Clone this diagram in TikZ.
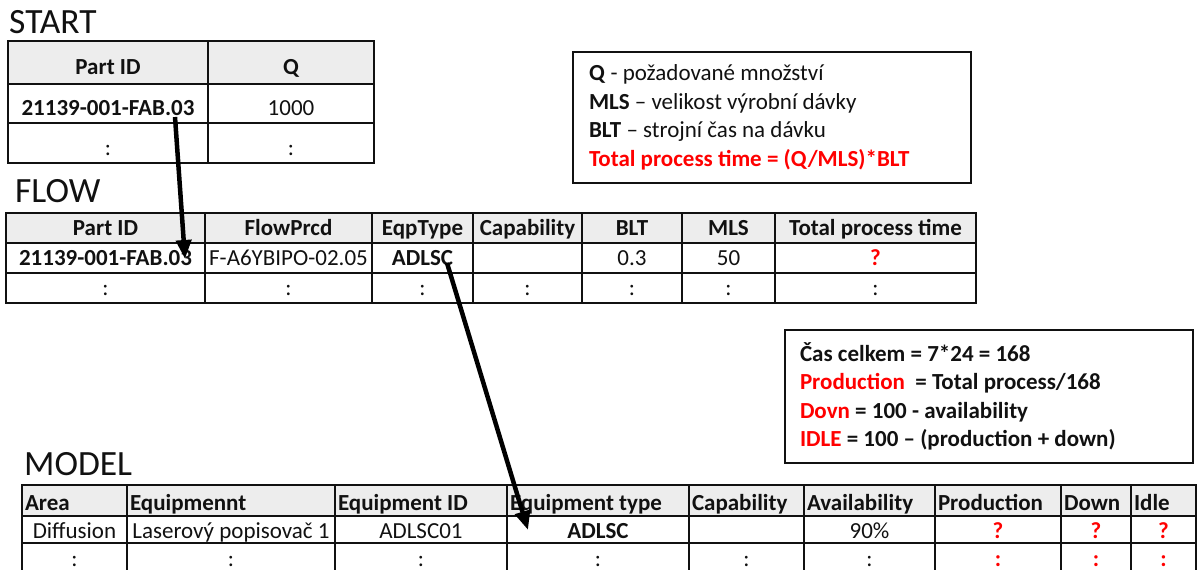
\documentclass[tikz,border=0pt]{standalone}
\usepackage{fontspec}
\setmainfont{Carlito}
\usetikzlibrary{arrows.meta}

\definecolor{hdrgray}{HTML}{EDEDED}
\definecolor{alert}{HTML}{FF0000}
\definecolor{ink}{HTML}{111111}

\tikzset{
  cellbox/.style={draw=ink, line width=1.4pt, inner sep=0pt, outer sep=0pt,
    text=ink, font=\fontsize{23}{26}\selectfont, text height=15pt, text depth=0pt},
  datacell/.style={cellbox},
  boldcell/.style={cellbox, font=\fontsize{23}{26}\selectfont\bfseries},
  hdrcell/.style={boldcell, fill=hdrgray},
  redcell/.style={boldcell, text=alert},
  tallcell/.style={text height=24pt},
  modelhdr/.style={text height=19pt},
  modelrow/.style={text height=18pt},
  lastrow/.style={text height=11pt},
  title/.style={anchor=base west, inner sep=0pt, text=ink, font=\fontsize{35.5}{40}\selectfont},
  notebox/.style={draw=ink, line width=1.6pt, inner sep=0pt, align=flush left, text=ink,
    font=\fontsize{23}{28.5}\selectfont},
  flowarrow/.style={line width=4.5pt, draw=black, -{Triangle[length=19pt,width=15pt]}},
}

% one table cell: name, x1, x2, y1, y2, style, text
\newcommand{\gridcell}[7]{%
  \node[#6, minimum width={(#3-#2)*1pt}, minimum height={(#5-#4)*1pt}]
    (#1) at ({(#2+#3)/2},{(#4+#5)/2}) {#7};}
% same, with the text set flush left
\newcommand{\gridcellL}[7]{%
  \node[#6, minimum width={(#3-#2)*1pt}, minimum height={(#5-#4)*1pt},
    text width={(#3-#2-6)*1pt}, align=flush left]
    (#1) at ({(#2+#3)/2},{(#4+#5)/2}) {#7};}

\begin{document}
\begin{tikzpicture}[x=1pt, y=-1pt]
\useasboundingbox (0,0) rectangle (1203,570);
\clip (0,0) rectangle (1203,570);

% ---------------- START ----------------
\node[title] (startT) at (9,33) {START};
\gridcell{s11}{8}{208}{41}{84}{hdrcell,tallcell}{Part ID}
\gridcell{s12}{208}{374}{41}{84}{hdrcell,tallcell}{Q}
\gridcell{s21}{8}{208}{84}{123}{boldcell,tallcell}{21139-001-FAB.03}
\gridcell{s22}{208}{374}{84}{123}{datacell,tallcell}{1000}
\gridcell{s31}{8}{208}{123}{163}{datacell,tallcell}{:}
\gridcell{s32}{208}{374}{123}{163}{datacell,tallcell}{:}

% ---------------- FLOW ----------------
\node[title] (flowT) at (15,202) {FLOW};
\gridcell{f11}{6}{205}{213}{243}{hdrcell}{Part ID}
\gridcell{f12}{205}{372}{213}{243}{hdrcell}{FlowPrcd}
\gridcell{f13}{372}{473}{213}{243}{hdrcell}{EqpType}
\gridcell{f14}{473}{582}{213}{243}{hdrcell}{Capability}
\gridcell{f15}{582}{682}{213}{243}{hdrcell}{BLT}
\gridcell{f16}{682}{775}{213}{243}{hdrcell}{MLS}
\gridcell{f17}{775}{976}{213}{243}{hdrcell}{Total process time}
\gridcell{f21}{6}{205}{243}{273}{boldcell}{21139-001-FAB.03}
\gridcell{f22}{205}{372}{243}{273}{datacell}{F-A6YBIPO-02.05}
\gridcell{f23}{372}{473}{243}{273}{boldcell}{ADLSC}
\gridcell{f24}{473}{582}{243}{273}{datacell}{}
\gridcell{f25}{582}{682}{243}{273}{datacell}{0.3}
\gridcell{f26}{682}{775}{243}{273}{datacell}{50}
\gridcell{f27}{775}{976}{243}{273}{redcell}{?}
\gridcell{f31}{6}{205}{273}{303}{datacell}{:}
\gridcell{f32}{205}{372}{273}{303}{datacell}{:}
\gridcell{f33}{372}{473}{273}{303}{datacell}{:}
\gridcell{f34}{473}{582}{273}{303}{datacell}{:}
\gridcell{f35}{582}{682}{273}{303}{datacell}{:}
\gridcell{f36}{682}{775}{273}{303}{datacell}{:}
\gridcell{f37}{775}{976}{273}{303}{datacell}{:}

% ---------------- MODEL ----------------
\node[title] (modelT) at (24,475) {MODEL};
\gridcellL{m11}{22}{127}{485}{516}{hdrcell,modelhdr}{Area}
\gridcellL{m12}{127}{335}{485}{516}{hdrcell,modelhdr}{Equipmennt}
\gridcellL{m13}{335}{507}{485}{516}{hdrcell,modelhdr}{Equipment ID}
\gridcellL{m14}{507}{689}{485}{516}{hdrcell,modelhdr}{Equipment type}
\gridcellL{m15}{689}{804}{485}{516}{hdrcell,modelhdr}{Capability}
\gridcellL{m16}{804}{935}{485}{516}{hdrcell,modelhdr}{Availability}
\gridcellL{m17}{935}{1061}{485}{516}{hdrcell,modelhdr}{Production}
\gridcellL{m18}{1061}{1131}{485}{516}{hdrcell,modelhdr}{Down}
\gridcellL{m19}{1131}{1196}{485}{516}{hdrcell,modelhdr}{Idle}
\gridcell{m21}{22}{127}{516}{543}{datacell,modelrow}{Diffusion}
\gridcell{m22}{127}{335}{516}{543}{datacell,modelrow}{Laserový popisovač 1}
\gridcell{m23}{335}{507}{516}{543}{datacell,modelrow}{ADLSC01}
\gridcell{m24}{507}{689}{516}{543}{boldcell,modelrow}{ADLSC}
\gridcell{m25}{689}{804}{516}{543}{datacell,modelrow}{}
\gridcell{m26}{804}{935}{516}{543}{datacell,modelrow}{90\%}
\gridcell{m27}{935}{1061}{516}{543}{redcell,modelrow}{?}
\gridcell{m28}{1061}{1131}{516}{543}{redcell,modelrow}{?}
\gridcell{m29}{1131}{1196}{516}{543}{redcell,modelrow}{?}
\gridcell{m31}{22}{127}{543}{578}{datacell,lastrow}{:}
\gridcell{m32}{127}{335}{543}{578}{datacell,lastrow}{:}
\gridcell{m33}{335}{507}{543}{578}{datacell,lastrow}{:}
\gridcell{m34}{507}{689}{543}{578}{datacell,lastrow}{:}
\gridcell{m35}{689}{804}{543}{578}{datacell,lastrow}{:}
\gridcell{m36}{804}{935}{543}{578}{datacell,lastrow}{:}
\gridcell{m37}{935}{1061}{543}{578}{redcell,lastrow}{:}
\gridcell{m38}{1061}{1131}{543}{578}{redcell,lastrow}{:}
\gridcell{m39}{1131}{1196}{543}{578}{redcell,lastrow}{:}

% ---------------- notes ----------------
\node[notebox, minimum width=398pt, minimum height=131pt, text width=366pt]
  (noteQ) at (772,117.5) {%
  \textbf{Q} - požadované množství\\
  \textbf{MLS} – velikost výrobní dávky\\
  \textbf{BLT} – strojní čas na dávku\\
  \textcolor{alert}{\textbf{Total process time = (Q/MLS)*BLT}}};

\node[notebox, minimum width=408pt, minimum height=133pt, text width=378pt,
  font=\fontsize{23}{28.5}\selectfont\bfseries]
  (noteTime) at (989,396.5) {%
  Čas celkem = 7*24 = 168\\
  \textcolor{alert}{Production}\ \ = Total process/168\\
  \textcolor{alert}{Dovn} = 100 - availability\\
  \textcolor{alert}{IDLE} = 100 – (production + down)};

% ---------------- links between tables ----------------
\coordinate (partSrc) at (175,117);
\coordinate (partDst) at (185,259);
\coordinate (eqpSrc) at (447,263);
\coordinate (eqpDst) at (528,530);
\draw[flowarrow] (partSrc) -- (partDst);
\draw[flowarrow] (eqpSrc) -- (eqpDst);
\end{tikzpicture}
\end{document}
